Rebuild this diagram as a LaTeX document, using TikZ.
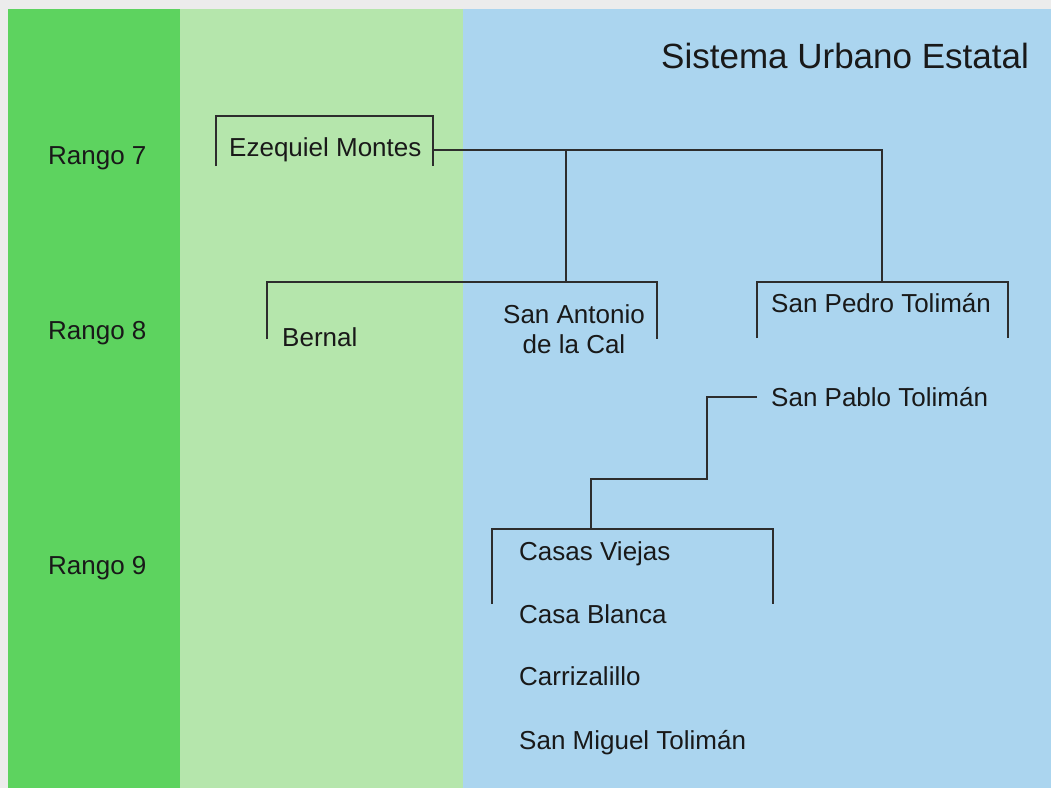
\documentclass[tikz,border=0pt]{standalone}
\usepackage{fontspec}
\setmainfont{Liberation Sans}
\usetikzlibrary{calc}

\definecolor{rangogreen}{RGB}{93,211,95}
\definecolor{palegreen}{RGB}{181,230,172}
\definecolor{paleblue}{RGB}{171,213,239}
\definecolor{framegray}{RGB}{236,236,236}
\definecolor{linegray}{RGB}{45,45,45}

\begin{document}
\begin{tikzpicture}[x=1pt,y=-1pt,
  lbl/.style={anchor=base west,inner sep=0pt,text=black!90,font=\fontsize{26}{30}\selectfont},
  link/.style={draw=linegray,line width=1.1pt}]

% background bands
\fill[framegray] (0,0) rectangle (1051,788);
\fill[rangogreen] (8,9) rectangle (180,788);
\fill[palegreen] (180,9) rectangle (463,788);
\fill[paleblue] (463,9) rectangle (1051,788);
\useasboundingbox (0,0) rectangle (1051,788);

% title
\node[lbl,font=\fontsize{35}{42}\selectfont] (title) at (661,68) {Sistema Urbano Estatal};

% ranks
\node[lbl] (r7) at (48,164) {Rango 7};
\node[lbl] (r8) at (48,339) {Rango 8};
\node[lbl] (r9) at (48,574) {Rango 9};

% localities
\node[lbl] (em) at (229,156) {Ezequiel Montes};
\node[lbl] (be) at (282,346) {Bernal};
\node[lbl,anchor=center,align=center] (sac) at (574,329) {San Antonio\\de la Cal};
\node[lbl] (spe) at (771,312) {San Pedro Tolimán};
\node[lbl] (spa) at (771,406) {San Pablo Tolimán};
\node[lbl] (cv) at (519,560) {Casas Viejas};
\node[lbl] (cb) at (519,623) {Casa Blanca};
\node[lbl] (ca) at (519,685) {Carrizalillo};
\node[lbl] (smt) at (519,749) {San Miguel Tolimán};

% bracket corners
\coordinate (em1) at (216,166);
\coordinate (em2) at (433,116);
\coordinate (em3) at (433,166);
\coordinate (emr) at (433,150);
\coordinate (b1) at (267,339);
\coordinate (b2) at (657,282);
\coordinate (b3) at (657,339);
\coordinate (p1) at (757,338);
\coordinate (p2) at (1008,282);
\coordinate (p3) at (1008,338);
\coordinate (sb) at (566,282);
\coordinate (pb) at (882,282);
\coordinate (pa) at (757,397);
\coordinate (c1) at (492,604);
\coordinate (c2) at (773,529);
\coordinate (c3) at (773,604);
\coordinate (ct) at (591,529);

% brackets
\draw[link] (em1) |- (em2) -- (em3);
\draw[link] (b1) |- (b2) -- (b3);
\draw[link] (p1) |- (p2) -- (p3);
\draw[link] (c1) |- (c2) -- (c3);

% connectors
\draw[link] (emr) -| (pb);
\draw[link] (emr -| sb) -- (sb);
\draw[link] (pa) -- ++(-50,0) |- ($(ct)+(0,-50)$) -| (ct);

\end{tikzpicture}
\end{document}
